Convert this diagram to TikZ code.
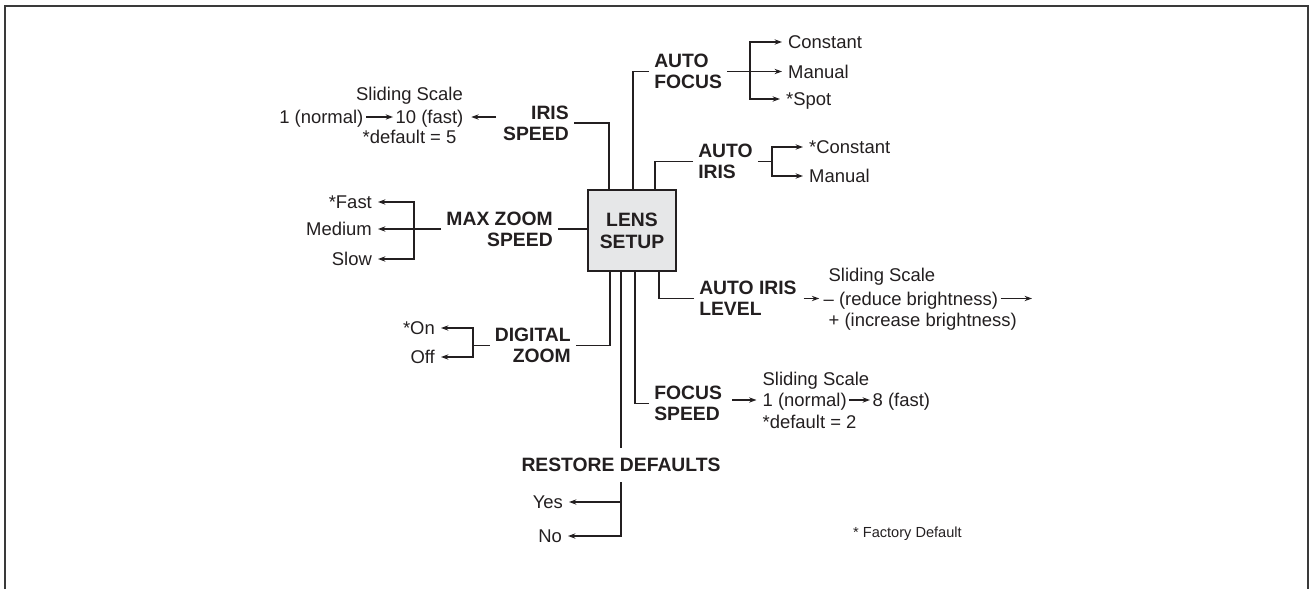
\documentclass[tikz,border=0pt]{standalone}
\usepackage{fontspec}
\setmainfont{Liberation Sans}
\usepackage{xcolor}
\usepackage{tikz}
\usetikzlibrary{positioning,arrows.meta,calc}
\definecolor{ink}{RGB}{35,31,32}
\definecolor{cbox}{RGB}{230,231,232}
\definecolor{cframe}{RGB}{58,58,58}

\begin{document}
\begin{tikzpicture}[x=0.02cm, y=-0.02cm,
  lens/.style={draw=ink, fill=cbox, line width=1.4pt, minimum width=1.76cm, minimum height=1.62cm,
               inner sep=0pt, align=center, text=ink, font=\bfseries\fontsize{11}{12.5}\selectfont},
  lbl/.style={inner sep=0pt, outer sep=3pt, text=ink, font=\bfseries\fontsize{11}{12}\selectfont},
  opt/.style={inner sep=0pt, outer sep=3.5pt, text height=7.5pt, text depth=0pt, text=ink,
              font=\fontsize{10.5}{12}\selectfont},
  sc/.style={opt, outer sep=1.5pt},
  ln/.style={draw=ink, line width=0.75pt},
  ar/.style={ln, -{Stealth[length=4.2pt,width=3pt]}}]
\useasboundingbox (0,0) rectangle (1312,589);
\draw[cframe, line width=1.5pt] (5,589) -- (5,6) -- (1308,6) -- (1308,589);

\node[lens] (lens) at (632,230.5) {LENS\\SETUP};

\node[lbl, align=right, anchor=east] (irs) at (574,123)   {IRIS\\SPEED};
\node[lbl, align=left,  anchor=west] (afo) at (649,71.5)  {AUTO\\FOCUS};
\node[lbl, align=left,  anchor=west] (air) at (693,161.5) {AUTO\\IRIS};
\node[lbl, align=right, anchor=east] (mzs) at (558,229)   {MAX ZOOM\\SPEED};
\node[lbl, align=right, anchor=east] (dzm) at (576,345.5) {DIGITAL\\ZOOM};
\node[lbl, align=left,  anchor=west] (ail) at (694,298.5) {AUTO IRIS\\LEVEL};
\node[lbl, align=left,  anchor=west] (fsp) at (649,403.5) {FOCUS\\SPEED};
\node[lbl, outer sep=6pt, text height=7.8pt, text depth=0pt] (rst) at (621,465) {RESTORE DEFAULTS};

\draw[ln] (irs.east) -| ([xshift=-0.46cm]lens.north);
\draw[ln] (afo.west) -| ([xshift=0.02cm]lens.north);
\draw[ln] (air.west) -| ([xshift=0.46cm]lens.north);
\draw[ln] (mzs.east) -- (mzs.east -| lens.west);
\draw[ln] (dzm.east) -| ([xshift=-0.44cm]lens.south);
\draw[ln] (ail.west) -| ([xshift=0.54cm]lens.south);
\draw[ln] (fsp.west) -| ([xshift=0.06cm]lens.south);
\draw[ln] (rst.north) -- (rst.north |- lens.south);

\node[opt, anchor=west] (afc) at (782,42)   {Constant};
\node[opt, anchor=west] (afm) at (782,71.5) {Manual};
\node[opt, anchor=west] (afs) at (780,99)   {*Spot};
\coordinate (afb) at (750,71.5);
\draw[ln] (afo.east) -- (afb);
\draw[ar] (afb) |- (afc.west);
\draw[ar] (afb) -- (afm.west);
\draw[ar] (afb) |- (afs.west);

\node[opt, anchor=west] (aic) at (803,147) {*Constant};
\node[opt, anchor=west] (aim) at (803,176) {Manual};
\coordinate (aib) at (772,161.5);
\draw[ln] (air.east) -- (aib);
\draw[ar] (aib) |- (aic.west);
\draw[ar] (aib) |- (aim.west);

\node[opt, anchor=east] (mzf) at (378,202) {*Fast};
\node[opt, anchor=east] (mzm) at (378,229) {Medium};
\node[opt, anchor=east] (mzl) at (378,259) {Slow};
\coordinate (mzb) at (414,229);
\draw[ln] (mzs.west) -- (mzb);
\draw[ar] (mzb) |- (mzf.east);
\draw[ar] (mzb) -- (mzm.east);
\draw[ar] (mzb) |- (mzl.east);

\node[opt, anchor=east] (dzn) at (441,328) {*On};
\node[opt, anchor=east] (dzf) at (441,357) {Off};
\coordinate (dzb) at (473,345.5);
\draw[ln] (dzm.west) -- (dzb);
\draw[ar] (dzb) |- (dzn.east);
\draw[ar] (dzb) |- (dzf.east);

\node[opt, anchor=east] (yes) at (569,502) {Yes};
\node[opt, anchor=east] (no)  at (568,536) {No};
\draw[ar] (rst.south) |- (yes.east);
\draw[ar] (rst.south) |- (no.east);

\node[sc] (iss) at (409.5,94) {Sliding Scale};
\node[sc, anchor=east] (is1) at (366,117) {1 (normal)};
\node[sc, anchor=east] (is2) at (466,117) {10 (fast)};
\node[sc] (isd) at (409.5,137) {*default = 5};
\draw[ar, shorten <=1pt, shorten >=3pt] (irs.west |- is2.east) -- (is2.east);
\draw[ar] (is1.east) -- (is2.west);

\node[sc, anchor=west] (fss) at (760,379) {Sliding Scale};
\node[sc, anchor=west] (fs1) at (760,400) {1 (normal)};
\node[sc, anchor=west] (fs2) at (870,400) {8 (fast)};
\node[sc, anchor=west] (fsd) at (760,422) {*default = 2};
\draw[ar, shorten <=3pt, shorten >=2pt] (fsp.east |- fs1.west) -- (fs1.west);
\draw[ar] (fs1.east) -- (fs2.west);

\node[sc, anchor=west] (ils) at (826,275)   {Sliding Scale};
\node[sc, anchor=west] (il1) at (821,298.5) {\textendash{} (reduce brightness)};
\node[sc, anchor=west] (il2) at (826,320)   {+ (increase brightness)};
\coordinate (ilr) at (1032,298.5);
\draw[ar, shorten <=1pt, shorten >=1pt] (ail.east |- il1.west) -- (il1.west);
\draw[ar] (il1.east) -- (ilr);

\node[opt, anchor=west, text height=6pt, font=\fontsize{8.3}{10}\selectfont] (fdef) at (847,532) {* Factory Default};
\end{tikzpicture}
\end{document}
